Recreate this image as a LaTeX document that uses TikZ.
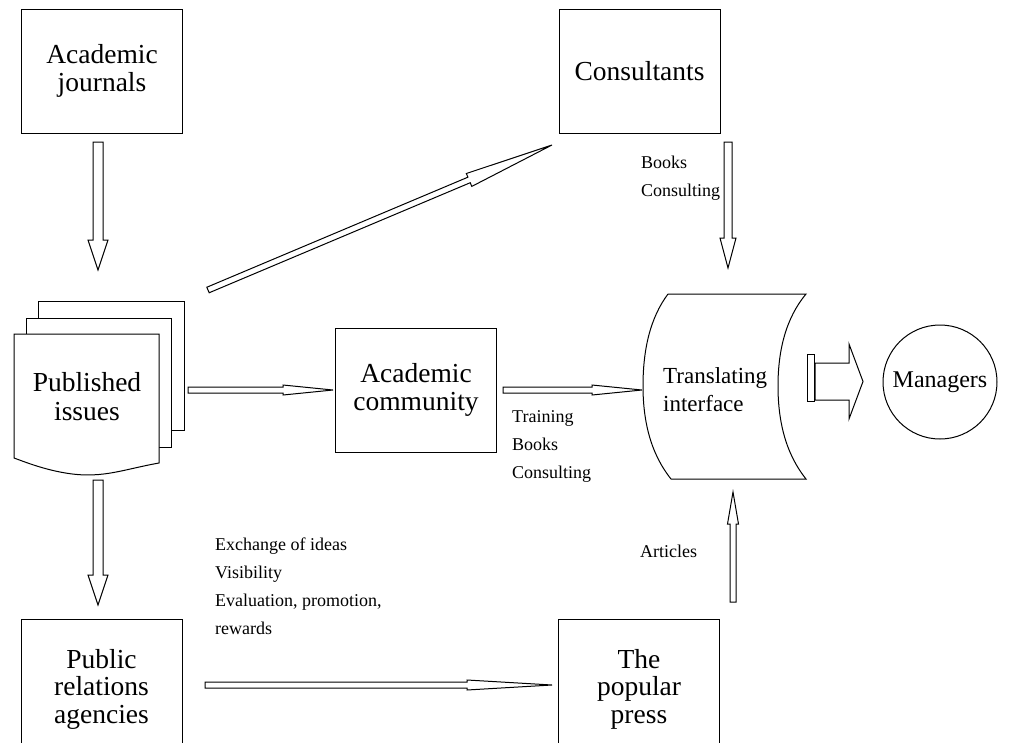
\documentclass[tikz,border=0pt]{standalone}
\usepackage{fontspec}
\setmainfont{Liberation Serif}
\usetikzlibrary{calc}

% hollow block arrow: from, to, shaft half-width, head half-width, head length
\newcommand{\flowarrow}[5]{%
  \coordinate (hb) at ($(#2)!#5!(#1)$);
  \draw[flow] ($(#1)!#3!90:(#2)$) -- ($(hb)!#3!90:(#2)$) -- ($(hb)!#4!90:(#2)$) -- (#2)
    -- ($(hb)!#4!-90:(#2)$) -- ($(hb)!#3!-90:(#2)$) -- ($(#1)!#3!-90:(#2)$) -- cycle;}

\tikzset{
  box/.style={draw, line width=1pt, minimum width=161pt, minimum height=124pt, align=center,
    font=\fontsize{27.5}{27.5}\selectfont, inner sep=0pt},
  page/.style={draw, line width=1pt, fill=white},
  flow/.style={draw, line width=1pt, fill=white, line join=miter},
  note/.style={align=left, font=\fontsize{18}{28}\selectfont, inner sep=0pt, anchor=north west},
}

\begin{document}
\begin{tikzpicture}[x=1pt, y=-1pt]
  \useasboundingbox (0,0) rectangle (1023,742);

  % boxes
  \node[box] (journals) at (102,71) {Academic\\journals};
  \node[box] (consultants) at (639.5,71) {Consultants};
  \node[box] (community) at (416,390) {Academic\\community};
  \node[box, minimum height=140pt] (agencies) at (101.5,689) {Public\\relations\\agencies};
  \node[box, minimum height=140pt] (press) at (639,689) {The\\popular\\press};

  % published issues (stack of pages)
  \draw[page] (38,301) rectangle (184,430);
  \draw[page] (26,318) rectangle (171,447);
  \draw[page] (14,334) -- (159,334) -- (159,463)
    .. controls (120,470) and (100,480) .. (60,472)
    .. controls (40,468) and (25,462) .. (14,458) -- cycle;
  \node[align=center, font=\fontsize{27.5}{29}\selectfont] (published) at (87,397) {Published\\issues};

  % translating interface
  \draw[line width=1pt] (668,294) -- (806,294)
    .. controls (786,318) and (778,350) .. (778,386)
    .. controls (778,422) and (786,454) .. (806,479) -- (671,479)
    .. controls (651,454) and (643,422) .. (643,386)
    .. controls (643,350) and (650,318) .. (668,294);
  \node[anchor=west, align=left, font=\fontsize{23}{28}\selectfont, inner sep=0pt] (interface) at (663,390) {Translating\\interface};

  % managers
  \node[circle, draw, line width=1pt, minimum size=114pt, inner sep=0pt, font=\fontsize{24}{24}\selectfont] (managers) at (940,382) {Managers};

  % arrow ends
  \coordinate (j1) at (98,142);   \coordinate (j2) at (98,270);
  \coordinate (p1) at (98,480);   \coordinate (p2) at (98,605);
  \coordinate (c1) at (728,142);  \coordinate (c2) at (728,268);
  \coordinate (a1) at (733,602);  \coordinate (a2) at (733,492);
  \coordinate (d1) at (208,290);  \coordinate (d2) at (552,145);
  \coordinate (r1) at (205,685);  \coordinate (r2) at (552,685);
  \coordinate (m1) at (188,390);  \coordinate (m2) at (333,390);
  \coordinate (t1) at (503,390);  \coordinate (t2) at (642,390);

  \flowarrow{j1}{j2}{5pt}{10pt}{30pt}
  \flowarrow{p1}{p2}{5pt}{10pt}{30pt}
  \flowarrow{c1}{c2}{4pt}{8pt}{30pt}
  \flowarrow{a1}{a2}{3pt}{5.5pt}{32pt}
  \flowarrow{d1}{d2}{3pt}{7pt}{90pt}
  \flowarrow{r1}{r2}{3pt}{5pt}{85pt}
  \flowarrow{m1}{m2}{3pt}{5pt}{50pt}
  \flowarrow{t1}{t2}{3pt}{5pt}{50pt}

  % arrow into managers
  \draw[flow] (807,354) rectangle (814,401);
  \draw[flow] (815,363) -- (849,363) -- (849,344) -- (863,381.5) -- (849,419) -- (849,400) -- (815,400) -- cycle;

  % labels
  \node[note] (booksc) at (641,156) {Books\\Consulting};
  \node[note] (training) at (512,410) {Training\\Books\\Consulting};
  \node[note] (exchange) at (215,538) {Exchange of ideas\\Visibility\\Evaluation, promotion,\\rewards};
  \node[note] (articles) at (640,545) {Articles};
\end{tikzpicture}
\end{document}
